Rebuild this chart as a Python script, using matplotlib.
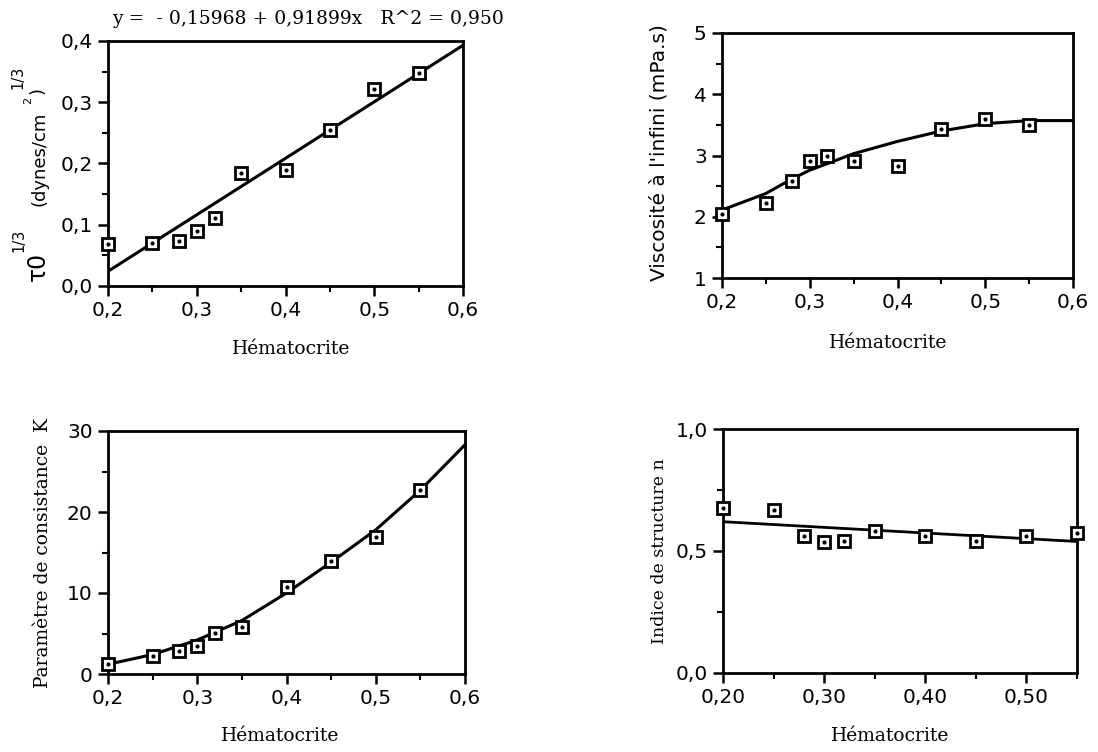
import matplotlib
matplotlib.use('Agg')
import matplotlib.pyplot as plt
from matplotlib.ticker import MultipleLocator

# hematocrit values (same for every panel)
hct = [0.20, 0.25, 0.28, 0.30, 0.32, 0.35, 0.40, 0.45, 0.50, 0.55]

# measured values
tau0_cbrt = [0.068, 0.071, 0.074, 0.090, 0.111, 0.185, 0.190, 0.254, 0.322, 0.348]
visc_inf = [2.04, 2.23, 2.59, 2.91, 2.99, 2.91, 2.83, 3.43, 3.59, 3.49]
k_consist = [1.2, 2.2, 2.9, 3.5, 5.1, 5.8, 10.7, 13.9, 16.9, 22.7]
n_index = [0.676, 0.666, 0.563, 0.536, 0.540, 0.583, 0.563, 0.540, 0.563, 0.572]

# fitted curves
tau_fit_x = [0.20, 0.60]
tau_fit_y = [0.024, 0.393]
visc_fit_x = [0.20, 0.25, 0.28, 0.30, 0.35, 0.40, 0.45, 0.50, 0.55, 0.60]
visc_fit_y = [2.11, 2.38, 2.62, 2.76, 3.03, 3.23, 3.40, 3.52, 3.57, 3.57]
k_fit_x = [0.20, 0.25, 0.30, 0.35, 0.40, 0.45, 0.50, 0.55, 0.60]
k_fit_y = [1.2, 2.4, 4.2, 6.6, 10.0, 13.8, 17.8, 22.7, 28.3]
n_fit_x = [0.20, 0.55]
n_fit_y = [0.620, 0.539]

# tick labels
x_ticks = [0.2, 0.3, 0.4, 0.5, 0.6]
x_labels = ['0,2', '0,3', '0,4', '0,5', '0,6']
x4_ticks = [0.20, 0.30, 0.40, 0.50]
x4_labels = ['0,20', '0,30', '0,40', '0,50']
y1_ticks = [0.0, 0.1, 0.2, 0.3, 0.4]
y1_labels = ['0,0', '0,1', '0,2', '0,3', '0,4']
y2_ticks = [1, 2, 3, 4, 5]
y2_labels = ['1', '2', '3', '4', '5']
y3_ticks = [0, 10, 20, 30]
y3_labels = ['0', '10', '20', '30']
y4_ticks = [0.0, 0.5, 1.0]
y4_labels = ['0,0', '0,5', '1,0']

SANS = 'DejaVu Sans'
SERIF = 'DejaVu Serif'
W, H = 1098, 752

plt.rcParams['font.family'] = SANS
plt.rcParams['axes.linewidth'] = 2.0

fig = plt.figure(figsize=(W / 100, H / 100), dpi=100)


def px_axes(x0, y0, x1, y1):
    return fig.add_axes([x0 / W, 1 - y1 / H, (x1 - x0) / W, (y1 - y0) / H])


def px(x, y):
    return x / W, 1 - y / H


def style(ax, xt, xl, xminor, yt, yl, yminor, xlim, ylim):
    ax.set_xlim(*xlim)
    ax.set_ylim(*ylim)
    ax.set_xticks(xt)
    ax.set_xticklabels(xl)
    ax.set_yticks(yt)
    ax.set_yticklabels(yl)
    ax.xaxis.set_minor_locator(MultipleLocator(xminor))
    ax.yaxis.set_minor_locator(MultipleLocator(yminor))
    ax.tick_params(which='major', direction='out', length=7, width=1.8,
                   labelsize=14.5, pad=4)
    ax.tick_params(which='minor', direction='out', length=4, width=1.5)


def points(ax, x, y):
    ax.plot(x, y, 's', ms=8.5, mfc='white', mec='black', mew=2.0, clip_on=False, zorder=3)
    ax.plot(x, y, 'o', ms=2.0, color='black', clip_on=False, zorder=4)


def xlabel(xc, yc):
    fig.text(*px(xc, yc), 'Hématocrite', family=SERIF, fontsize=13.5,
             ha='center', va='center')


def vtext(xc, yc, s, size, **kw):
    fig.text(*px(xc, yc), s, fontsize=size, rotation=90,
             ha='center', va='center', **kw)


# top left
ax1 = px_axes(108, 41, 463, 286)
ax1.plot(tau_fit_x, tau_fit_y, color='black', lw=2.2)
points(ax1, hct, tau0_cbrt)
style(ax1, x_ticks, x_labels, 0.05, y1_ticks, y1_labels, 0.05, (0.2, 0.6), (0, 0.4))
xlabel(291, 349)
fig.text(*px(112, 19), 'y =  - 0,15968 + 0,91899x   R^2 = 0,950',
         family=SERIF, fontsize=13.5, ha='left', va='center')
# composite y label: tau0^(1/3) (dynes/cm^2)^(1/3)
vtext(38, 266, 'τ0', 17)
vtext(19, 240, '1/3', 10.5)
vtext(39, 159, '(dynes/cm', 13)
vtext(28, 100, '2', 8)
vtext(38, 91, ')', 13)
vtext(18, 77, '1/3', 10.5)

# top right
ax2 = px_axes(722, 33, 1073, 278)
ax2.plot(visc_fit_x, visc_fit_y, color='black', lw=2.2)
points(ax2, hct, visc_inf)
style(ax2, x_ticks, x_labels, 0.05, y2_ticks, y2_labels, 0.5, (0.2, 0.6), (1, 5))
xlabel(888, 343)
vtext(659, 153, "Viscosité à l'infini (mPa.s)", 14.5)

# bottom left
ax3 = px_axes(108, 431, 465, 674)
ax3.plot(k_fit_x, k_fit_y, color='black', lw=2.2)
points(ax3, hct, k_consist)
style(ax3, x_ticks, x_labels, 0.05, y3_ticks, y3_labels, 5, (0.2, 0.6), (0, 30))
xlabel(280, 736)
vtext(43, 553, 'Paramètre de consistance  K', 13.5, family=SERIF)

# bottom right
ax4 = px_axes(723, 429, 1077, 673)
ax4.plot(n_fit_x, n_fit_y, color='black', lw=2.0)
points(ax4, hct, n_index)
style(ax4, x4_ticks, x4_labels, 0.05, y4_ticks, y4_labels, 0.25, (0.2, 0.55), (0, 1))
xlabel(890, 736)
vtext(660, 551, 'Indice de structure n', 12.5, family=SERIF)

fig.savefig('out.png', dpi=100)
